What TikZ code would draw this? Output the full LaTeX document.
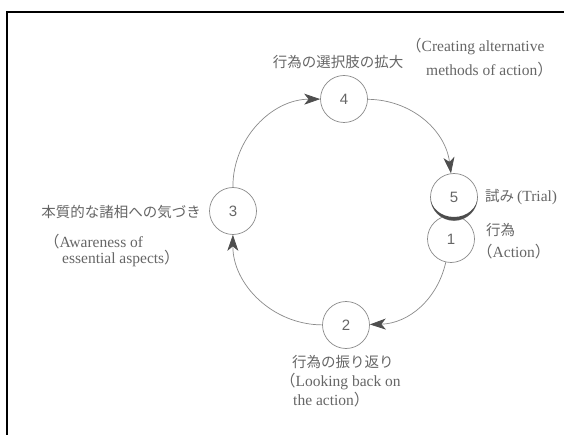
\documentclass[tikz,border=0pt]{standalone}
\usepackage{fontspec}
\setmainfont{Liberation Serif}
\newfontfamily\cjk{Noto Sans CJK JP}
\newfontfamily\numfont{Liberation Sans}
\usetikzlibrary{arrows.meta}
\definecolor{txt}{HTML}{666666}
\definecolor{ln}{HTML}{8A8A8A}
\definecolor{tip}{HTML}{4E4E4E}
\tikzset{
  stage/.style={circle, draw=ln, line width=0.7pt, fill=white, minimum size=47pt, inner sep=0pt,
    font=\numfont\fontsize{15}{15}\selectfont, text=txt},
  lbl/.style={inner sep=0pt, text=txt, font=\fontsize{15.5}{17}\selectfont},
  jlbl/.style={inner sep=0pt, text=txt, font=\cjk\fontsize{14.5}{17}\selectfont},
  flow/.style={draw=ln, line width=0.7pt, -{Stealth[length=16pt,width=11pt,inset=4.5pt,color=tip]}},
}
\begin{document}
\begin{tikzpicture}[x=1pt,y=1pt]
\useasboundingbox (0,0) rectangle (564,-435);
\fill[white] (0,0) rectangle (564,-435);
% frame
\draw[line width=1.3pt] (7,-435) -- (7,-12) -- (564,-12);
% stages
\node[stage] (n4) at (344,-99) {4};
\node[stage] (n3) at (233,-211) {3};
\node[stage] (n2) at (346,-325) {2};
\node[stage] (n1) at (451,-239) {1};
\node[stage] (n5) at (454,-197) {5};
% shadow crescent under 5
\fill[black!70] (477.5,-197) arc[start angle=0, end angle=-180, radius=23.5]
   arc[start angle=180, end angle=360, x radius=23.5, y radius=20];
% connectors
\draw[flow] (n4) to[bend left=41] (n5);
\draw[flow] (n1) to[bend left=38] (n2);
\draw[flow] (n2) to[bend left=45] (n3);
\draw[flow] (n3) to[bend left=45] (n4);
% labels
\node[jlbl] (t4j) at (338,-62) {行為の選択肢の拡大};
\node[lbl, anchor=west] (t4e1) at (406,-47) {{\cjk （}Creating alternative};
\node[lbl, anchor=west] (t4e2) at (426,-70) {methods of action{\cjk ）}};
\node[jlbl, anchor=west] (t5j) at (485,-197) {試み\hspace{3pt}\textrm{\fontsize{15.5}{17}\selectfont(Trial)}};
\node[jlbl, anchor=west] (t1j) at (486,-230) {行為};
\node[lbl, anchor=west] (t1e) at (477,-252) {{\cjk （}Action{\cjk ）}};
\node[jlbl, anchor=east] (t3j) at (201,-212) {本質的な諸相への気づき};
\node[lbl, anchor=west] (t3e1) at (44,-242) {{\cjk （}Awareness of};
\node[lbl, anchor=west] (t3e2) at (62,-259) {essential aspects{\cjk ）}};
\node[jlbl, anchor=west] (t2j) at (292,-362) {行為の振り返り};
\node[lbl, anchor=west] (t2e1) at (280,-382) {{\cjk （}Looking back on};
\node[lbl, anchor=west] (t2e2) at (293,-400) {the action{\cjk ）}};
\end{tikzpicture}
\end{document}
